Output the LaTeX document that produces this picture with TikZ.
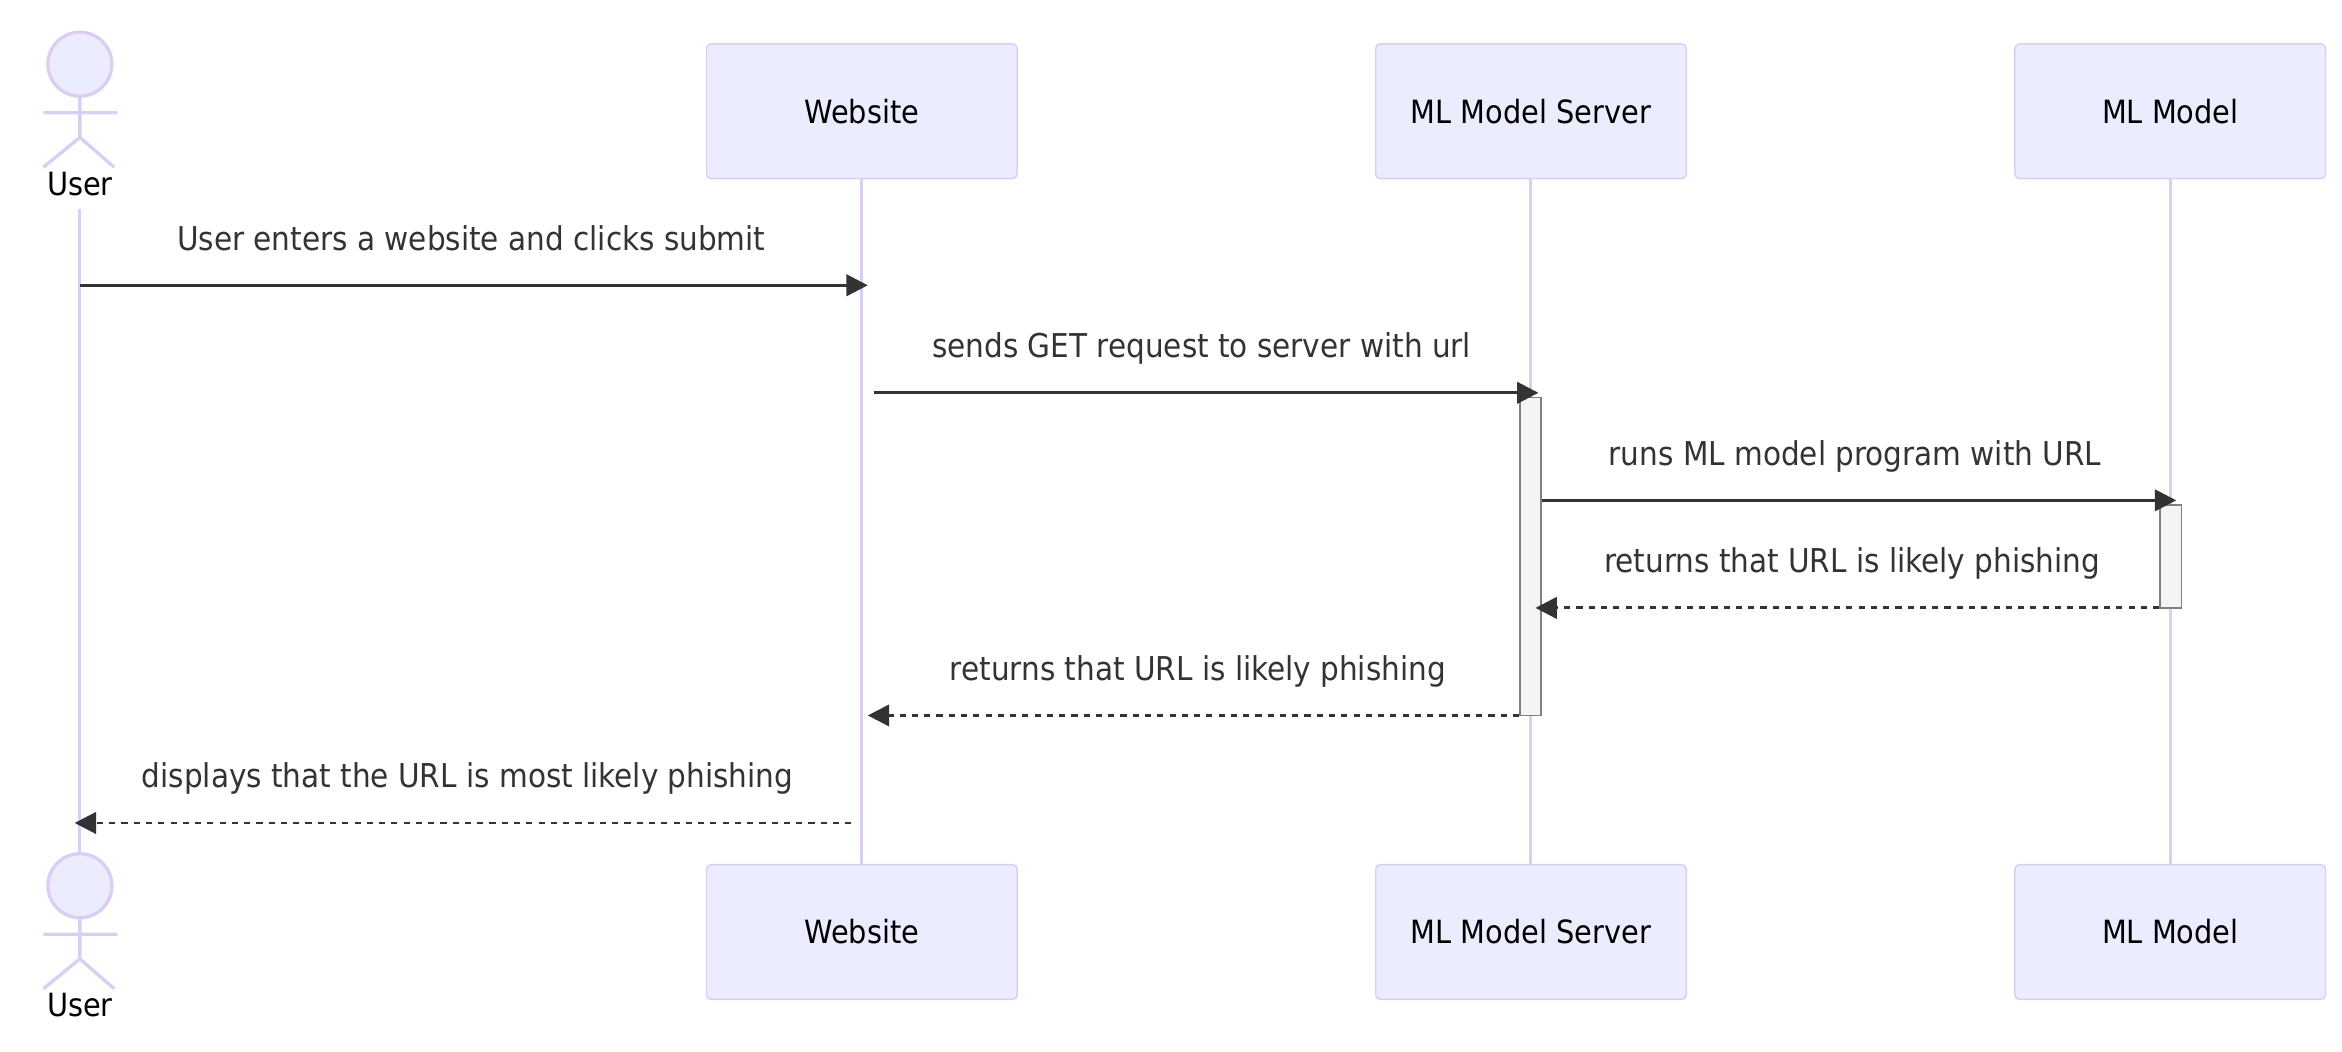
\documentclass[tikz,border=0pt]{standalone}
\usepackage{fontspec}
\setmainfont{DejaVu Sans Condensed}
\usetikzlibrary{arrows.meta}
\definecolor{actorfill}{HTML}{ECECFF}
\definecolor{actorline}{HTML}{DACEF3}
\definecolor{msgcol}{HTML}{333333}
\definecolor{actfill}{HTML}{F4F4F4}
\definecolor{actline}{HTML}{808080}
\tikzset{
  x=1.1202pt,y=-1.1202pt,
  party/.style={draw=actorline,fill=actorfill,line width=1.1pt,rounded corners=3.4pt,minimum width=233pt,minimum height=101pt,inner sep=0pt,font=\fontsize{24}{28}\selectfont,text=black},
  lifeline/.style={draw=actorline,line width=2.3pt},
  stick/.style={draw=actorline,line width=2.5pt},
  actorname/.style={font=\fontsize{24}{28}\selectfont,text=black,inner sep=0pt},
  msgtext/.style={font=\fontsize{24.6}{28}\selectfont,text=msgcol,inner sep=0pt,anchor=base},
  msg/.style={draw=msgcol,line width=2.2pt,-{Triangle[length=16pt,width=16pt]}},
  reply/.style={msg,dash pattern=on 4.6pt off 4.6pt},
  actbar/.style={draw=actline,fill=actfill,line width=1.2pt,minimum width=16pt,inner sep=0pt},
}
\newcommand{\stickman}[2]{%
  \draw[stick,fill=actorfill] (#1,#2) circle (24pt);
  \draw[stick] (#1,#2+21.5) -- (#1,#2+49) (#1-24.5,#2+32.5) -- (#1+25,#2+32.5)
    (#1-24.5,#2+69) -- (#1,#2+49) -- (#1+23,#2+69);
}
\begin{document}
\begin{tikzpicture}
\useasboundingbox (0,0) rectangle (1568,704.3);
\coordinate (webTc) at (577,74.5);
\coordinate (srvTc) at (1025,74.5);
\coordinate (modTc) at (1453,74.5);
\coordinate (webBc) at (577,624);
\coordinate (srvBc) at (1025,624);
\coordinate (modBc) at (1453,624);
\coordinate (usrS) at (53.5,140);
\coordinate (usrE) at (53.5,571);
\draw[lifeline] (usrS) -- (usrE);
\draw[lifeline] (webTc) -- (webBc);
\draw[lifeline] ([xshift=-0.5pt]srvTc) -- ([xshift=-0.5pt]srvBc);
\draw[lifeline] (modTc) -- (modBc);
\node[party] (webT) at (webTc) {Website};
\node[party] (srvT) at (srvTc) {ML Model Server};
\node[party] (modT) at (modTc) {ML Model};
\node[party] (webB) at (webBc) {Website};
\node[party] (srvB) at (srvBc) {ML Model Server};
\node[party] (modB) at (modBc) {ML Model};
\node[actorname] (usrT) at (53.5,123) {User};
\node[actorname] (usrB) at (53.5,673) {User};
\stickman{53.5}{43}
\stickman{53.5}{593}
\node[actbar,minimum height=238.5pt] (actS) at (1024.75,372.5) {};
\node[actbar,minimum height=77.3pt] (actM) at (1453.25,372.5) {};
\coordinate (a1) at (53.5,191); \coordinate (b1) at (581,191);
\coordinate (a2) at (585,263); \coordinate (b2) at (1030,263);
\coordinate (a3) at (actS.east |- 0,335); \coordinate (b3) at (1457,335);
\coordinate (a4) at (actM.west |- 0,407); \coordinate (b4) at (1028,407);
\coordinate (a5) at (actS.west |- 0,479); \coordinate (b5) at (581,479);
\coordinate (a6) at (570,551); \coordinate (b6) at (50,551);
\draw[msg] (a1) -- (b1);
\draw[msg] (a2) -- (b2);
\draw[msg] (a3) -- (b3);
\draw[reply] (a4) -- (b4);
\draw[reply] (a5) -- (b5);
\draw[reply] (a6) -- (b6);
\node[msgtext] (t1) at (315.5,167.5) {User enters a website and clicks submit};
\node[msgtext] (t2) at (804.5,239.5) {sends GET request to server with url};
\node[msgtext] (t3) at (1242,311.5) {runs ML model program with URL};
\node[msgtext] (t4) at (1240,383.5) {returns that URL is likely phishing};
\node[msgtext] (t5) at (802,455.5) {returns that URL is likely phishing};
\node[msgtext] (t6) at (313,527.5) {displays that the URL is most likely phishing};
\end{tikzpicture}
\end{document}
